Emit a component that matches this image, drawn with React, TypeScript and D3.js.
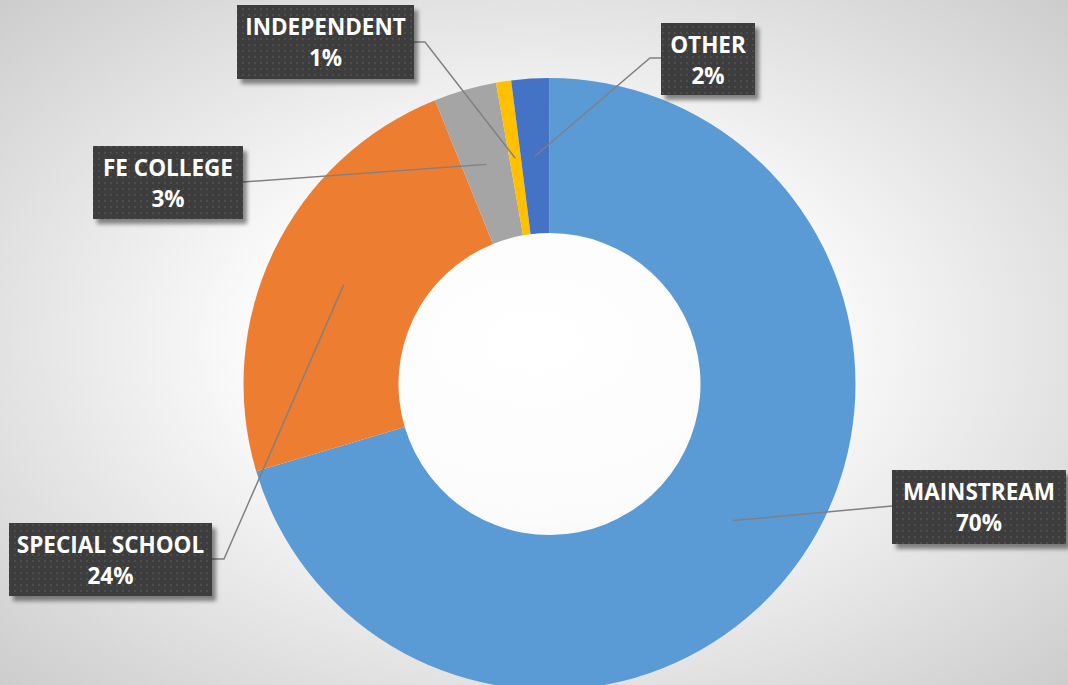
import React from "react";
import * as d3 from "d3";

const categories = ["MAINSTREAM", "SPECIAL SCHOOL", "FE COLLEGE", "INDEPENDENT", "OTHER"];
const values = [70.4, 23.5, 3.3, 0.8, 2.0];
const percentLabels = ["70%", "24%", "3%", "1%", "2%"];
const colors = ["#5B9BD5", "#ED7D31", "#A5A5A5", "#FFC000", "#4472C4"];

// label box layout: [x, y, w, h], plus leader attach side
const boxes: [number, number, number, number][] = [
  [892, 470, 174, 74],
  [9, 523, 203, 73],
  [93, 146, 150, 73],
  [237, 5, 177, 74],
  [661, 23, 94, 72],
];
const attach: { side: "left" | "right"; dy: number; elbow: number }[] = [
  { side: "left", dy: 36, elbow: 0 },
  { side: "right", dy: 36, elbow: 12 },
  { side: "right", dy: 36, elbow: 0 },
  { side: "right", dy: 37, elbow: 11 },
  { side: "left", dy: 35, elbow: -11 },
];

const W = 1068;
const H = 685;
const cx = 549.5;
const cy = 384;
const outerR = 306;
const innerR = 151;

export default function App() {
  const pie = d3
    .pie<number>()
    .sort(null)
    .value((d) => d)
    .startAngle(0)
    .endAngle(2 * Math.PI);
  const arcs = pie(values);
  const arcGen = d3.arc<d3.PieArcDatum<number>>().innerRadius(innerR).outerRadius(outerR);

  return (
    <svg
      width={W}
      height={H}
      style={{ position: "absolute", left: 0, top: 0, display: "block" }}
      fontFamily="'Open Sans', sans-serif"
    >
      <defs>
        <radialGradient id="bg" cx="50%" cy="50%" r="75%">
          <stop offset="0%" stopColor="#ffffff" />
          <stop offset="35%" stopColor="#fbfbfb" />
          <stop offset="100%" stopColor="#c8c8c8" />
        </radialGradient>
        <pattern id="dots" width="6" height="6" patternUnits="userSpaceOnUse">
          <rect width="6" height="6" fill="#3d3d3d" />
          <rect x="2" y="2" width="2" height="2" fill="#4e4e4e" />
        </pattern>
        <filter id="shadow" x="-10%" y="-10%" width="130%" height="140%">
          <feGaussianBlur in="SourceAlpha" stdDeviation="2" />
          <feOffset dx="4" dy="5" result="b" />
          <feComponentTransfer>
            <feFuncA type="linear" slope="0.45" />
          </feComponentTransfer>
          <feMerge>
            <feMergeNode />
            <feMergeNode in="SourceGraphic" />
          </feMerge>
        </filter>
      </defs>
      <rect width={W} height={H} fill="url(#bg)" />
      <g transform={`translate(${cx},${cy})`}>
        {arcs.map((a, i) => (
          <path key={i} d={arcGen(a) || ""} fill={colors[i]} />
        ))}
      </g>
      {arcs.map((a, i) => {
        const [px, py] = arcGen.centroid(a);
        const [bx, by, bw] = boxes[i];
        const at = attach[i];
        const ex = at.side === "left" ? bx : bx + bw;
        const ey = by + at.dy;
        const pts: [number, number][] = [[cx + px, cy + py]];
        if (at.elbow !== 0) pts.push([ex + at.elbow, ey]);
        pts.push([ex, ey]);
        const line = d3.line();
        return (
          <path key={"l" + i} d={line(pts) || ""} fill="none" stroke="#808080" strokeWidth={1.5} />
        );
      })}
      {categories.map((c, i) => {
        const [bx, by, bw, bh] = boxes[i];
        return (
          <g key={"b" + i}>
            <rect x={bx} y={by} width={bw} height={bh} fill="url(#dots)" filter="url(#shadow)" />
            <text
              x={bx + bw / 2}
              y={by + 30}
              textAnchor="middle"
              fill="#ffffff"
              fontWeight={700}
              fontSize={22.5}
            >
              {c}
            </text>
            <text
              x={bx + bw / 2}
              y={by + 61}
              textAnchor="middle"
              fill="#ffffff"
              fontWeight={700}
              fontSize={22.5}
            >
              {percentLabels[i]}
            </text>
          </g>
        );
      })}
    </svg>
  );
}
